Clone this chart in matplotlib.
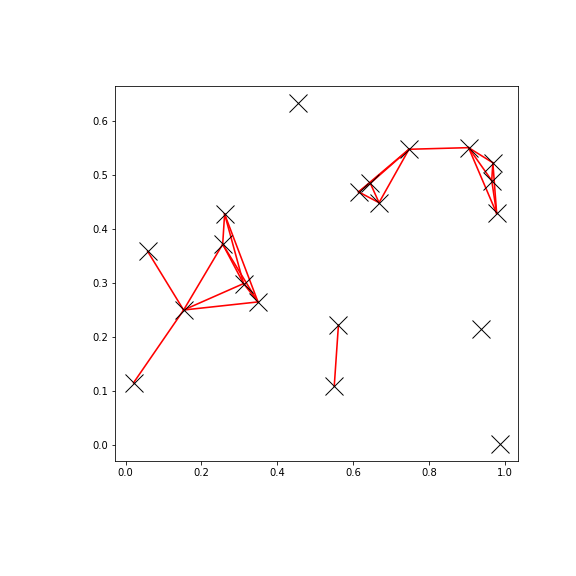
import matplotlib
matplotlib.use("Agg")
import matplotlib.pyplot as plt

xs = [0.021, 0.058, 0.153, 0.256, 0.261, 0.311, 0.349, 0.455, 0.561, 0.550,
      0.614, 0.645, 0.668, 0.747, 0.904, 0.968, 0.965, 0.978, 0.937, 0.987]
ys = [0.115, 0.359, 0.250, 0.372, 0.428, 0.299, 0.265, 0.633, 0.222, 0.109,
      0.469, 0.485, 0.449, 0.548, 0.551, 0.523, 0.490, 0.429, 0.215, 0.002]

edges = [(0, 2), (1, 2), (2, 3), (2, 5), (2, 6),
         (3, 4), (3, 5), (3, 6), (4, 5), (4, 6), (5, 6),
         (8, 9),
         (10, 11), (10, 12), (10, 13), (11, 12), (11, 13), (12, 13),
         (13, 14),
         (14, 15), (14, 16), (14, 17), (15, 16), (15, 17), (16, 17)]

fig = plt.figure(figsize=(8, 8), dpi=72)
ax = fig.add_axes([0.2, 0.2, 0.7, 0.65])
for i, j in edges:
    ax.plot([xs[i], xs[j]], [ys[i], ys[j]], color="red", lw=1.6)
ax.plot(xs, ys, "x", color="black", ms=18, mew=1, ls="none")
ax.set_xticks([0.0, 0.2, 0.4, 0.6, 0.8, 1.0])
ax.set_yticks([0.0, 0.1, 0.2, 0.3, 0.4, 0.5, 0.6])
fig.savefig("out.png", dpi=72)
